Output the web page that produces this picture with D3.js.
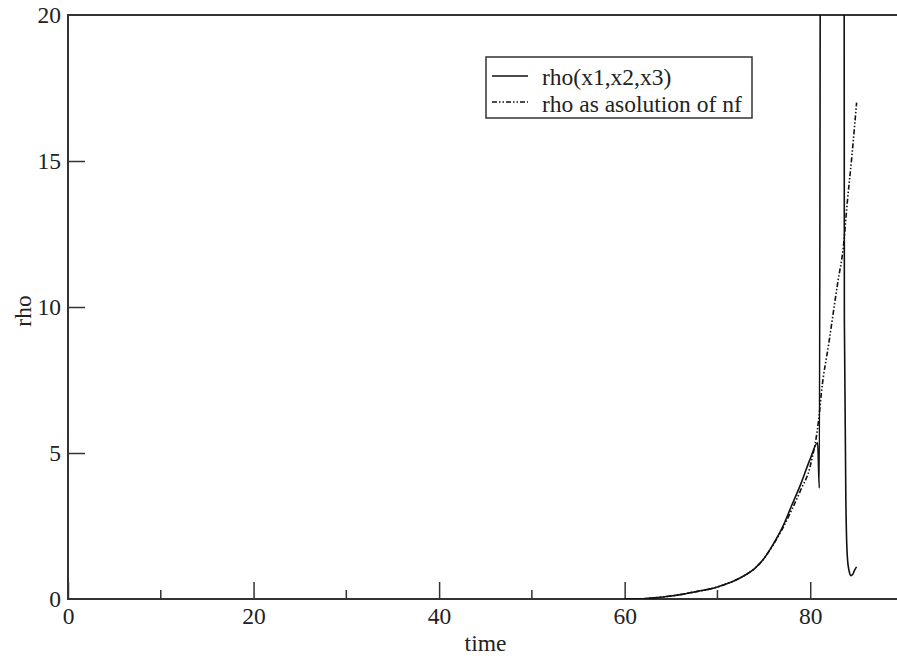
<!DOCTYPE html>
<html>
<head>
<meta charset="utf-8">
<script src="https://cdn.jsdelivr.net/npm/d3@7"></script>
<style>
  body { margin: 0; background: #fff; }
  svg { display: block; }
  svg text { font-family: "Liberation Serif", "DejaVu Serif", serif; }
</style>
</head>
<body>
<svg id="chart" width="897" height="656"></svg>
<script>
// rho as solution of nf (dash-dot-dot curve)
var nfTime = [60, 62, 63.5, 65, 66, 67, 68, 69, 70, 71, 72, 73, 74, 75, 76, 77, 78, 79, 80, 81, 81.2, 82, 83, 83.55, 84, 84.5, 85];
var nfRho  = [0, 0.01, 0.05, 0.1, 0.15, 0.21, 0.27, 0.33, 0.41, 0.52, 0.65, 0.82, 1.04, 1.38, 1.85, 2.4, 3.05, 3.75, 4.55, 6.4, 7.05, 8.75, 10.9, 12.0, 13.6, 15.2, 17.0];

// rho(x1,x2,x3) (solid curve), goes off the top between ~81.1 and ~83.6
var xTime = [60, 62, 63.5, 65, 66, 67, 68, 69, 70, 71, 72, 73, 74, 75, 76, 77, 78, 79, 80, 80.8, 80.98, 81.14, 83.64, 83.68, 83.86, 84.0, 84.2, 84.4, 84.6, 84.8, 85.0];
var xRho  = [0, 0.01, 0.05, 0.1, 0.15, 0.21, 0.27, 0.33, 0.41, 0.52, 0.65, 0.82, 1.04, 1.38, 1.87, 2.45, 3.2, 3.95, 4.8, 5.35, 3.8, 30, 30, 9.6, 3.0, 1.45, 0.95, 0.8, 0.85, 1.0, 1.1];

var xMajor = [0, 20, 40, 60, 80];
var xMinor = [10, 30, 50, 70];
var yMajor = [0, 5, 10, 15, 20];
var legendNames = ["rho(x1,x2,x3)", "rho as asolution of nf"];

var svg = d3.select("#chart");
var pLeft = 68, pTop = 15, pBottom = 599, pRight = 903;
var fontSize = 23.5;

var x = d3.scaleLinear().domain([0, 90]).range([pLeft, pRight]);
var y = d3.scaleLinear().domain([0, 20]).range([pBottom, pTop]);

svg.append("clipPath").attr("id", "plot")
  .append("rect")
  .attr("x", pLeft).attr("y", pTop)
  .attr("width", pRight - pLeft).attr("height", pBottom - pTop);

// ticks (inward)
var xAxis = svg.append("g")
  .attr("transform", "translate(0," + pBottom + ")")
  .call(d3.axisBottom(x).tickValues(xMajor).tickSizeInner(-17).tickSizeOuter(0).tickPadding(8));
xAxis.attr("font-size", fontSize);
xAxis.selectAll(".tick text").attr("fill", "#222");
xAxis.selectAll(".tick line").attr("stroke", "#333").attr("stroke-width", 1.5);
xAxis.select(".domain").remove();

svg.append("g").selectAll("line")
  .data(xMinor)
  .enter()
  .append("line")
  .attr("x1", function(d) { return x(d); })
  .attr("x2", function(d) { return x(d); })
  .attr("y1", pBottom)
  .attr("y2", pBottom - 9)
  .attr("stroke", "#333")
  .attr("stroke-width", 1.5);

var yAxis = svg.append("g")
  .attr("transform", "translate(" + pLeft + ",0)")
  .call(d3.axisLeft(y).tickValues(yMajor).tickSizeInner(-17).tickSizeOuter(0).tickPadding(7));
yAxis.attr("font-size", fontSize);
yAxis.selectAll(".tick text").attr("fill", "#222");
yAxis.selectAll(".tick line").attr("stroke", "#333").attr("stroke-width", 1.5)
  .attr("display", function(d) { return (d === 0 || d === 20) ? "none" : null; });
yAxis.select(".domain").remove();

// frame
svg.append("rect")
  .attr("x", pLeft).attr("y", pTop)
  .attr("width", pRight - pLeft).attr("height", pBottom - pTop)
  .attr("fill", "none")
  .attr("stroke", "#333")
  .attr("stroke-width", 2);

// curves
var line = d3.line()
  .curve(d3.curveMonotoneX)
  .x(function(d) { return x(d[0]); })
  .y(function(d) { return y(d[1]); });

var plot = svg.append("g").attr("clip-path", "url(#plot)");

plot.append("path")
  .datum(d3.zip(xTime, xRho))
  .attr("d", line)
  .attr("fill", "none")
  .attr("stroke", "#111")
  .attr("stroke-width", 1.6);

plot.append("path")
  .datum(d3.zip(nfTime, nfRho))
  .attr("d", line)
  .attr("fill", "none")
  .attr("stroke", "#111")
  .attr("stroke-width", 1.6)
  .attr("stroke-dasharray", "5,2,1.5,2,1.5,2");

// axis titles
svg.append("text")
  .attr("x", x(45)).attr("y", 651)
  .attr("text-anchor", "middle")
  .attr("font-size", fontSize)
  .attr("fill", "#222")
  .text("time");

svg.append("text")
  .attr("transform", "translate(31,311) rotate(-90)")
  .attr("text-anchor", "middle")
  .attr("font-size", fontSize)
  .attr("fill", "#222")
  .text("rho");

// legend
var legend = svg.append("g");
legend.append("rect")
  .attr("x", 486).attr("y", 57)
  .attr("width", 266).attr("height", 61)
  .attr("fill", "#fff")
  .attr("stroke", "#333")
  .attr("stroke-width", 1.5);

legend.selectAll("line")
  .data(legendNames)
  .enter()
  .append("line")
  .attr("x1", 492).attr("x2", 528)
  .attr("y1", function(d, i) { return 76 + i * 26; })
  .attr("y2", function(d, i) { return 76 + i * 26; })
  .attr("stroke", "#111")
  .attr("stroke-width", 1.5)
  .attr("stroke-dasharray", function(d, i) { return i ? "5,2,1.5,2,1.5,2" : null; });

legend.selectAll("text")
  .data(legendNames)
  .enter()
  .append("text")
  .attr("x", 542)
  .attr("y", function(d, i) { return 85 + i * 27; })
  .attr("font-size", fontSize)
  .attr("fill", "#222")
  .text(function(d) { return d; });
</script>
</body>
</html>
